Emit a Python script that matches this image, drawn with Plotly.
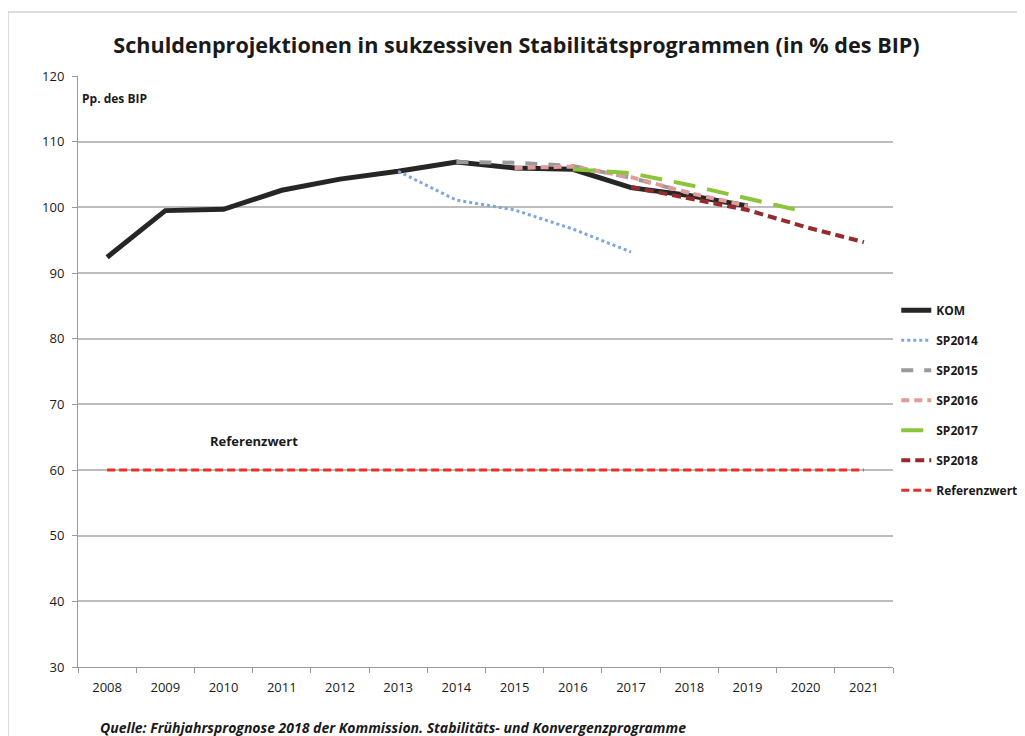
import plotly.graph_objects as go

years = [str(y) for y in range(2008, 2022)]

kom_years = [str(y) for y in range(2008, 2020)]
kom = [92.4, 99.5, 99.7, 102.6, 104.3, 105.5, 106.9, 106.0, 105.8, 103.0, 101.8, 100.2]

sp2014_years = ["2013", "2014", "2015", "2016", "2017"]
sp2014 = [105.5, 101.1, 99.6, 96.7, 93.2]

sp2015_years = ["2014", "2015", "2016", "2017", "2018"]
sp2015 = [106.9, 106.8, 106.3, 104.5, 102.2]

sp2016_years = ["2015", "2016", "2017", "2018", "2019"]
sp2016 = [106.0, 106.2, 104.6, 102.2, 100.2]

sp2017_years = ["2016", "2017", "2018", "2019", "2020"]
sp2017 = [105.8, 105.2, 103.4, 101.4, 99.3]

sp2018_years = ["2017", "2018", "2019", "2020", "2021"]
sp2018 = [103.1, 101.4, 99.6, 97.0, 94.7]

ref_years = years
ref = [60] * len(years)

FONT = "Open Sans"

fig = go.Figure()

series = [
    ("KOM", kom_years, kom, "#262626", 5, "solid"),
    ("SP2014", sp2014_years, sp2014, "#7ea6dc", 3, "dot"),
    ("SP2015", sp2015_years, sp2015, "#9a9a9a", 4, "12px,11px"),
    ("SP2016", sp2016_years, sp2016, "#e39a9a", 4, "8px,5px"),
    ("SP2017", sp2017_years, sp2017, "#8cc43c", 4, "22px,12px"),
    ("SP2018", sp2018_years, sp2018, "#962b2b", 4, "9px,5px"),
    ("Referenzwert", ref_years, ref, "#e8302a", 3, "8px,4px"),
]
for i, (name, xs, ys, col, w, dash) in enumerate(series):
    fig.add_trace(go.Scatter(
        x=xs, y=ys, name=name, mode="lines",
        line=dict(color=col, width=w, dash=dash),
        legendgroup=f"g{i}",
    ))

# page body has an 8px margin: figure origin sits at (8, 8) on screen
fig.update_layout(
    width=1017, height=736,
    margin=dict(l=70, r=132, t=68, b=77, autoexpand=False),
    paper_bgcolor="white", plot_bgcolor="white",
    font=dict(family=FONT, size=12, color="#1a1a1a"),
    title=dict(
        text="<b>Schuldenprojektionen in sukzessiven Stabilitätsprogrammen (in % des BIP)</b>",
        x=0.5, xanchor="center", y=1 - 37 / 736, yanchor="middle",
        font=dict(family=FONT, size=21.6, color="#1a1a1a"),
    ),
    showlegend=True,
    legend=dict(
        x=1.004, xanchor="left", y=0.628, yanchor="top",
        font=dict(family=FONT, size=12, color="#1a1a1a", weight="bold"),
        tracegroupgap=11, bgcolor="rgba(0,0,0,0)",
    ),
    xaxis=dict(
        type="category", categoryorder="array", categoryarray=years,
        range=[-0.5, 13.5],
        tickson="boundaries", ticks="outside", ticklen=5, tickcolor="#999",
        ticklabelstandoff=8,
        showgrid=False, showline=True, linecolor="#999", linewidth=1,
        tickfont=dict(size=13, color="#1a1a1a"),
        zeroline=False,
    ),
    yaxis=dict(
        range=[30, 120], dtick=10, tick0=30,
        showgrid=True, gridcolor="#bdbdbd", gridwidth=1.5,
        showline=True, linecolor="#999", linewidth=1,
        ticks="outside", ticklen=5, tickcolor="#999",
        ticklabelstandoff=5,
        tickfont=dict(size=13, color="#1a1a1a"),
        zeroline=False,
    ),
)

fig.add_annotation(
    text="<b>Pp. des BIP</b>", xref="paper", yref="paper",
    x=0.003, y=0.962, xanchor="left", yanchor="middle", showarrow=False,
    font=dict(family=FONT, size=12, color="#1a1a1a"),
)
fig.add_annotation(
    text="<b>Referenzwert</b>", xref="paper", yref="paper",
    x=0.159, y=(667 - 441) / 591, xanchor="left", yanchor="middle", showarrow=False,
    font=dict(family=FONT, size=13, color="#1a1a1a"),
)
fig.add_annotation(
    text="<b><i>Quelle: Frühjahrsprognose 2018 der Kommission. Stabilitäts- und Konvergenzprogramme</i></b>",
    xref="paper", yref="paper",
    x=(98 - 78) / 815, y=(667 - 727) / 591, xanchor="left", yanchor="middle", showarrow=False,
    font=dict(family=FONT, size=14, color="#1a1a1a"),
)

# outer chart frame
fig.add_shape(type="line", xref="paper", yref="paper",
              x0=(8 - 78) / 815, x1=(1025 - 78) / 815, y0=(667 - 12) / 591, y1=(667 - 12) / 591,
              line=dict(color="#bbbbbb", width=1))
fig.add_shape(type="line", xref="paper", yref="paper",
              x0=(8 - 78) / 815, x1=(8 - 78) / 815, y0=(667 - 12) / 591, y1=(667 - 740) / 591,
              line=dict(color="#bbbbbb", width=1))

fig.write_html("out.html", post_script="document.body.style.overflow='hidden';")
